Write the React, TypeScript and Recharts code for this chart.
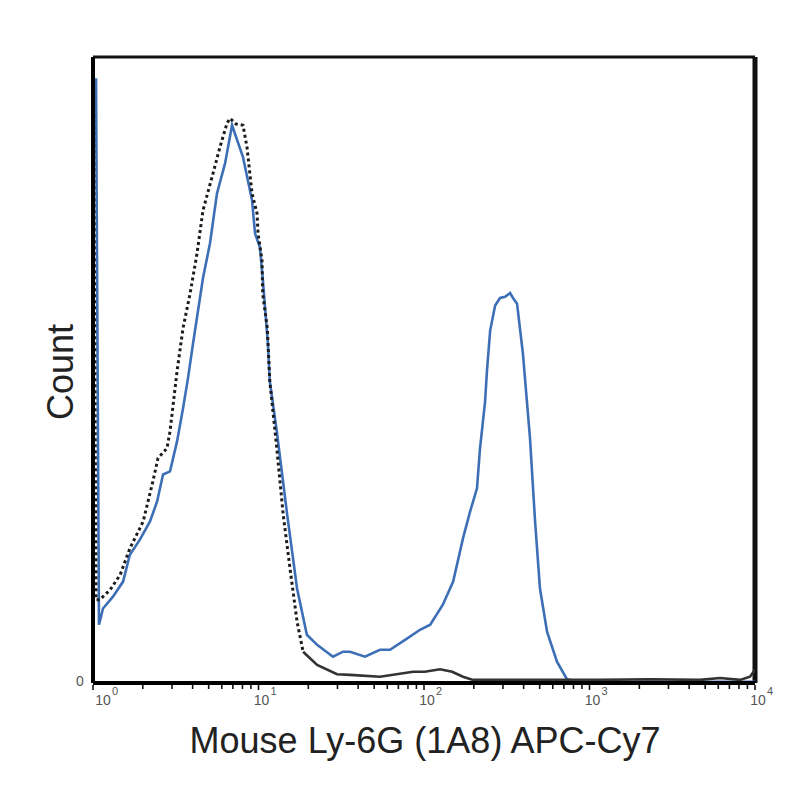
import { LineChart, Line, XAxis, YAxis, ReferenceLine, Label } from 'recharts'

// fluorescence intensity (APC-Cy7) and count for the unstained control (black dotted)
const controlIntensity = [
  1.007, 1.043, 1.1, 1.27, 1.46, 1.67, 2.01, 2.3, 2.47, 2.8, 2.92, 3.22, 3.5, 3.86, 4.25, 4.62, 5.31,
  5.85, 6.45, 6.73, 7.31, 8.06, 8.52, 9.14, 9.8, 9.94, 10.5, 10.6, 11.3, 11.7, 12.9, 14.1, 15.5, 17.1,
  18.6, 22.6, 29.8, 35.7, 54.2, 85.8, 101, 125, 148, 172, 198, 288, 1157, 2320, 4650, 6150, 8120,
  9330, 10000,
]
const controlCount = [
  96.6, 13.3, 13.3, 14.9, 17.3, 21.5, 25.8, 32.2, 35.9, 37.5, 40.2, 49.8, 56.7, 62.2, 68.6, 75.5, 81.4,
  85.6, 89.4, 90.2, 89.3, 89.1, 85.6, 78.2, 75.0, 71.8, 67.5, 62.2, 56.7, 48.2, 37.5, 26.9, 18.3, 9.8,
  5.0, 2.9, 1.4, 1.3, 1.0, 1.8, 1.8, 2.2, 1.8, 1.0, 0.5, 0.5, 0.5, 0.6, 0.5, 0.8, 0.5, 1.0, 2.1,
]

// Ly-6G stained sample (blue)
const stainedIntensity = [
  1.043, 1.087, 1.149, 1.32, 1.52, 1.67, 1.92, 2.21, 2.44, 2.65, 2.92, 3.22, 3.5, 3.75, 4.02, 4.62,
  5.09, 5.61, 6.28, 6.92, 8.06, 9.14, 9.53, 10.2, 10.6, 11.4, 11.7, 12.9, 14.9, 17.1, 19.6, 22.6, 28.2,
  32.4, 35.7, 44.0, 54.2, 62.3, 78.9, 94.6, 109, 130, 150, 172, 190, 209, 218, 234, 240, 251, 269, 288,
  309, 331, 345, 365, 396, 437, 469, 502, 554, 636, 731, 877, 2320, 10000,
]
const stainedCount = [
  96.6, 9.3, 11.9, 13.8, 16.2, 20.5, 22.9, 25.8, 29.0, 33.3, 33.8, 38.6, 43.9, 48.7, 54.2, 64.7, 70.2,
  78.2, 83.0, 89.1, 84.0, 77.1, 71.8, 69.6, 64.7, 54.2, 48.2, 40.2, 26.9, 15.1, 7.7, 6.1, 4.2, 5.0, 5.0,
  4.2, 5.3, 5.3, 7.1, 8.5, 9.3, 12.5, 16.2, 23.1, 27.4, 31.1, 37.5, 45.0, 49.8, 56.3, 60.3, 61.5, 61.7,
  62.3, 61.5, 60.6, 52.6, 39.1, 25.8, 15.1, 8.2, 3.4, 0.6, 0.2, 0.2, 0.2,
]

const majorTicks = [1, 10, 100, 1000, 10000]
const minorSteps = [1, 2, 3, 4, 5, 6, 7, 8, 9]
const xTicks = [
  ...majorTicks.slice(0, -1).flatMap(d => minorSteps.map(s => s * d)),
  10000,
]
const yTicks = [0]

// the control trace is drawn dotted over the peak, the flat tail reads as a solid line
const DOTTED_UNTIL = 18.6

const control = controlIntensity.map((v, i) => ({ v, c: controlCount[i] }))
const controlPeak = control.filter(p => p.v <= DOTTED_UNTIL)
const controlTail = control.filter(p => p.v >= DOTTED_UNTIL)
const stained = stainedIntensity.map((v, i) => ({ v, c: stainedCount[i] }))

const FONT = '"Liberation Sans", Arial, Helvetica, sans-serif'

function XTick({ x, y, payload }: { x: number; y: number; payload: { value: number } }) {
  const v = payload.value
  const major = majorTicks.includes(v)
  const exp = Math.round(Math.log10(v))
  const dx = v === 1 ? 10 : 3
  return (
    <g>
      <line x1={x} x2={x} y1={y + 2} y2={y + (major ? 7 : 6)} stroke="#111" strokeWidth={1.6} />
      {major && (
        <>
          <text x={x + dx} y={y + 22} textAnchor="middle" fontSize={14} fill="#555" fontFamily={FONT}>
            10
          </text>
          <text x={x + dx + 9} y={y + 12} fontSize={11} fill="#555" fontFamily={FONT}>
            {exp}
          </text>
        </>
      )}
    </g>
  )
}

function YTick({ x, y, payload }: { x: number; y: number; payload: { value: number } }) {
  return (
    <text x={x - 13} y={y + 3} textAnchor="middle" fontSize={14} fill="#555" fontFamily={FONT}>
      {payload.value}
    </text>
  )
}

export default function App() {
  return (
    <div style={{ position: 'absolute', left: 0, top: 0, width: 800, height: 800, background: '#fff' }}>
      <LineChart width={800} height={800} margin={{ top: 57, right: 45, bottom: 87, left: 73 }}>
        <XAxis
          dataKey="v"
          type="number"
          scale="log"
          domain={[1, 10000]}
          allowDataOverflow
          ticks={xTicks}
          interval={0}
          height={30}
          tickSize={0}
          tickMargin={0}
          tickLine={false}
          tick={XTick}
          axisLine={{ stroke: '#000', strokeWidth: 4 }}
        >
          <Label
            content={() => (
              <text x={425} y={753} textAnchor="middle" fontSize={36} fill="#222" fontFamily={FONT}>
                Mouse Ly-6G (1A8) APC-Cy7
              </text>
            )}
          />
        </XAxis>
        <YAxis
          dataKey="c"
          type="number"
          domain={[0, 100]}
          ticks={yTicks}
          width={20}
          tickSize={0}
          tickMargin={0}
          tickLine={false}
          tick={YTick}
          axisLine={{ stroke: '#000', strokeWidth: 4 }}
        >
          <Label
            content={() => (
              <text
                x={73}
                y={372}
                transform="rotate(-90 73 372)"
                textAnchor="middle"
                fontSize={36}
                fill="#222"
                fontFamily={FONT}
              >
                Count
              </text>
            )}
          />
        </YAxis>
        <ReferenceLine y={100} stroke="#111" strokeWidth={3} />
        <ReferenceLine x={10000} stroke="#111" strokeWidth={5} />
        <Line
          data={stained}
          dataKey="c"
          type="linear"
          stroke="#3d6fb6"
          strokeWidth={2.6}
          dot={false}
          isAnimationActive={false}
        />
        <Line
          data={controlPeak}
          dataKey="c"
          type="linear"
          stroke="#1c1c1c"
          strokeWidth={3}
          strokeDasharray="3 3"
          dot={false}
          isAnimationActive={false}
        />
        <Line
          data={controlTail}
          dataKey="c"
          type="linear"
          stroke="#333"
          strokeWidth={2.6}
          dot={false}
          isAnimationActive={false}
        />
      </LineChart>
    </div>
  )
}
